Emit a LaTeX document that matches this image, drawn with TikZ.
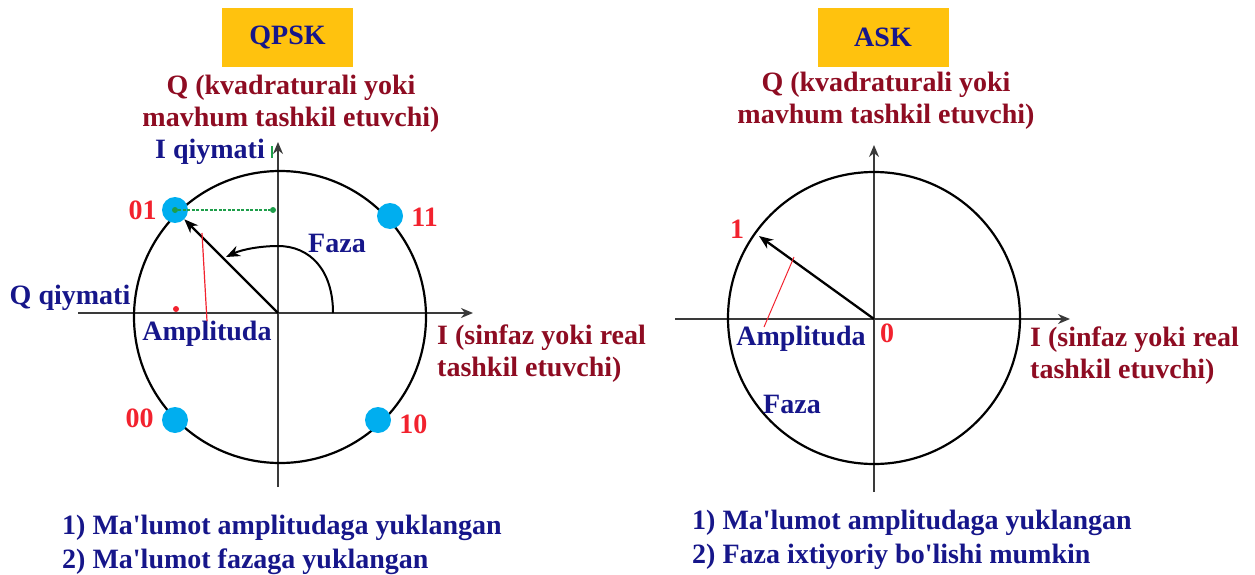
\documentclass[tikz,border=0pt]{standalone}
\usepackage{fontspec}
\setmainfont{Liberation Serif}
\usetikzlibrary{arrows.meta,positioning,calc}
\definecolor{modnavy}{HTML}{16168A}
\definecolor{modmaroon}{HTML}{8E0C22}
\definecolor{modred}{HTML}{F2222E}
\definecolor{modcyan}{HTML}{00AEEF}
\definecolor{modgold}{HTML}{FFC20E}
\definecolor{modgreen}{HTML}{1E9E4A}
\definecolor{modaxis}{HTML}{3A3A3A}

\begin{document}
\begin{tikzpicture}[
        x=1pt, y=-1pt,
        bigfont/.style={font=\bfseries\fontsize{28}{32}\selectfont},
        titlebox/.style={
          bigfont,
          fill=modgold,
          text=modnavy,
          minimum width=131pt,
          minimum height=59pt,
          inner sep=0pt
        },
        axislabel/.style={bigfont, text=modmaroon, inner sep=0pt},
        bluetext/.style={bigfont, text=modnavy, inner sep=0pt},
        bitlabel/.style={bigfont, text=modred, inner sep=0pt},
        axis/.style={
          -{Stealth[length=12pt,width=10pt]},
          line width=1.5pt,
          modaxis
        },
        ring/.style={
          circle,
          draw,
          line width=2.2pt,
          minimum size=292pt,
          inner sep=0pt
        },
        dot/.style={circle, fill=modcyan, minimum size=26pt, inner sep=0pt},
        smalldot/.style={circle, minimum size=6pt, inner sep=0pt},
        vec/.style={
          -{Stealth[length=14pt,width=11pt]},
          line width=2.3pt
        },
        pointer/.style={modred, line width=1.2pt}
      ]

      \useasboundingbox (0,0) rectangle (1255,575);

      % QPSK
      \node[titlebox] (qpsk) at (287.5,37.5) {QPSK};
      \node[axislabel, align=center] (qlab) at (291,104) {
        Q (kvadraturali yoki\\
        mavhum tashkil etuvchi)
      };

      \coordinate (qo) at (278,313);
      \coordinate (qxl) at (78,313);
      \coordinate (qxr) at (473,313);
      \coordinate (qyb) at (278,487);
      \coordinate (qyt) at (278,142);
      \draw[axis] (qxl) -- (qxr);
      \draw[axis] (qyb) -- (qyt);
      \node[ring] (qring) at (280,317) {};

      \node[dot] (d01) at (175,210) {};
      \node[dot] (d11) at (390,216) {};
      \node[dot] (d00) at (175,420) {};
      \node[dot] (d10) at (378,420) {};
      \node[bitlabel, left=5pt of d01] (l01) {01};
      \node[bitlabel, right=8pt of d11, yshift=-1pt] (l11) {11};
      \node[bitlabel, left=8pt of d00, yshift=2pt] (l00) {00};
      \node[bitlabel, right=8pt of d10, yshift=-4pt] (l10) {10};

      \draw[vec] (qo) -- (d01);
      \node[smalldot, fill=modgreen] (g01) at (d01) {};
      \node[smalldot, fill=modgreen] (gax) at (273,210) {};
      \draw[modgreen, line width=1.6pt, dash pattern=on 3pt off 1.5pt] (g01) -- (gax);
      \draw[modgreen, line width=1.5pt] (272,146) -- (272,158);

      \coordinate (qa0) at (333,313);
      \coordinate (qa1) at (226,257);
      \draw[vec, line width=2pt] (qa0) .. controls (333,270) and (310,246) .. (278,246)
        .. controls (262,246) and (243,249) .. (qa1);

      \node[bluetext] (iqiy) at (210,152) {I qiymati};
      \node[bluetext] (qqiy) at (70,298) {Q qiymati};
      \node[bluetext] (qfaza) at (337,243) {Faza};
      \node[bluetext] (qamp) at (207,334) {Amplituda};
      \node[smalldot, fill=modred] (rdot) at (176,309) {};
      \coordinate (qr0) at (202,233);
      \draw[pointer] (qr0) -- (qamp.north);

      \node[axislabel, align=left, anchor=west] (qilab) at (437,354) {
        I (sinfaz yoki real\\
        tashkil etuvchi)
      };
      \node[bluetext, align=left, anchor=west, font=\bfseries\fontsize{28}{34}\selectfont] (qnote) at (62,545) {
        1) Ma\textquotesingle lumot amplitudaga yuklangan\\
        2) Ma\textquotesingle lumot fazaga yuklangan
      };

      % ASK
      \node[titlebox] (ask) at (883,37.5) {ASK};
      \node[axislabel, align=center] (alab) at (886,101) {
        Q (kvadraturali yoki\\
        mavhum tashkil etuvchi)
      };

      \coordinate (ao) at (874,319);
      \coordinate (axl) at (675,319);
      \coordinate (axr) at (1070,319);
      \coordinate (ayb) at (874,492);
      \coordinate (ayt) at (874,145);
      \draw[axis] (axl) -- (axr);
      \draw[axis] (ayb) -- (ayt);
      \node[ring] (aring) at (874,318) {};

      \coordinate (a1) at (759,236);
      \draw[vec] (ao) -- (a1);
      \node[bitlabel] (l1) at (737,229) {1};
      \node[bitlabel] (l0) at (887,333) {0};

      \node[bluetext] (aamp) at (801,339) {Amplituda};
      \node[bluetext] (afaza) at (792,404) {Faza};
      \coordinate (ar0) at (794,257);
      \coordinate (ar1) at (764,327);
      \draw[pointer, line width=1pt] (ar0) -- (ar1);

      \node[axislabel, align=left, anchor=west] (ailab) at (1030,356) {
        I (sinfaz yoki real\\
        tashkil etuvchi)
      };
      \node[bluetext, align=left, anchor=west, font=\bfseries\fontsize{28}{34}\selectfont] (anote) at (692,540) {
        1) Ma\textquotesingle lumot amplitudaga yuklangan\\
        2) Faza ixtiyoriy bo\textquotesingle lishi mumkin
      };

      \end{tikzpicture}
\end{document}
